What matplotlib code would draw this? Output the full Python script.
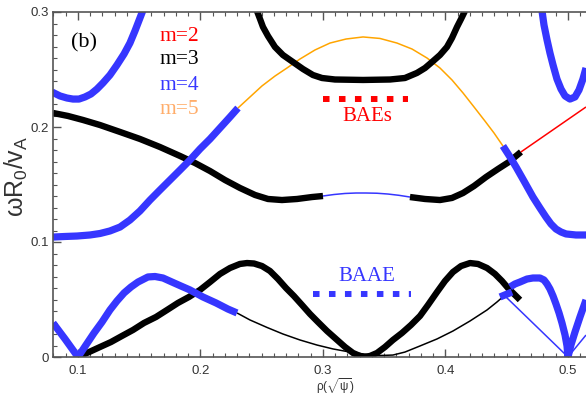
import matplotlib
matplotlib.use("Agg")
import matplotlib.pyplot as plt
from matplotlib.ticker import MultipleLocator

# ---------- Colours / widths ----------
RED = "#ff0000"
BLUE = "#3636ff"
ORANGE = "#ffa500"
ORANGE_TEXT = "#ffad6a"
GRAY = "#555555"
THICK_BLUE = 5.2
THICK_BLACK = 4.6
THIN = 1.1

plt.rcParams["lines.scale_dashes"] = False
plt.rcParams["mathtext.fontset"] = "custom"
plt.rcParams["mathtext.rm"] = "Liberation Sans"
plt.rcParams["mathtext.it"] = "Liberation Sans"

# ---------- Continuum branches: rho, omega*R0/vA ----------
# m=4, upper left U
m4_ul_x = [0.0788, 0.0853, 0.0910, 0.0959, 0.1008, 0.1057, 0.1106, 0.1155, 0.1204, 0.1261,
           0.1318, 0.1376, 0.1424, 0.1465, 0.1506, 0.1531]
m4_ul_y = [0.2304, 0.2270, 0.2252, 0.2243, 0.2243, 0.2261, 0.2287, 0.2330, 0.2383, 0.2452,
           0.2539, 0.2635, 0.2730, 0.2835, 0.2948, 0.3017]

# m=3, descending from upper left; thin m=4 piece in the gap; m=3 right part
m3_left_x = [0.0796, 0.0918, 0.1041, 0.1180, 0.1343, 0.1506, 0.1669, 0.1833, 0.1955, 0.2078,
             0.2200, 0.2322, 0.2445, 0.2551, 0.2665, 0.2788, 0.2910, 0.3000]
m3_left_y = [0.2122, 0.2096, 0.2061, 0.2017, 0.1957, 0.1896, 0.1826, 0.1748, 0.1687, 0.1617,
             0.1539, 0.1470, 0.1409, 0.1374, 0.1365, 0.1374, 0.1391, 0.1400]
m4_mid_x = [0.3000, 0.3090, 0.3180, 0.3270, 0.3351, 0.3441, 0.3531, 0.3620, 0.3710]
m4_mid_y = [0.1400, 0.1413, 0.1422, 0.1426, 0.1426, 0.1424, 0.1417, 0.1406, 0.1391]
m3_right_x = [0.3710, 0.3833, 0.3955, 0.4053, 0.4143, 0.4233, 0.4331, 0.4429, 0.4518, 0.4616]
m3_right_y = [0.1391, 0.1374, 0.1365, 0.1383, 0.1426, 0.1487, 0.1565, 0.1635, 0.1696, 0.1783]

# m=2, thin red continuation
m2_x = [0.4616, 0.5147]
m2_y = [0.1783, 0.2174]

# m=4 rising from 0.1 (thick), m=5 arc (thin), m=4 falling (thick)
m4_rise_x = [0.0796, 0.0894, 0.0992, 0.1098, 0.1180, 0.1261, 0.1343, 0.1424, 0.1506, 0.1588,
             0.1669, 0.1751, 0.1833, 0.1914, 0.1996, 0.2078, 0.2159, 0.2241, 0.2306]
m4_rise_y = [0.1043, 0.1048, 0.1052, 0.1061, 0.1074, 0.1096, 0.1130, 0.1191, 0.1270, 0.1365,
             0.1452, 0.1539, 0.1626, 0.1713, 0.1809, 0.1896, 0.1991, 0.2087, 0.2165]
m5_arc_x = [0.2306, 0.2404, 0.2502, 0.2608, 0.2706, 0.2812, 0.2935, 0.3057, 0.3188, 0.3327,
            0.3465, 0.3604, 0.3727, 0.3849, 0.3955, 0.4053, 0.4143, 0.4233, 0.4322, 0.4396, 0.4469]
m5_arc_y = [0.2165, 0.2261, 0.2357, 0.2443, 0.2513, 0.2591, 0.2670, 0.2730, 0.2765, 0.2783,
            0.2770, 0.2730, 0.2678, 0.2600, 0.2513, 0.2409, 0.2296, 0.2174, 0.2052, 0.1948, 0.1835]
m4_fall_x = [0.4469, 0.4527, 0.4576, 0.4641, 0.4714, 0.4771, 0.4820, 0.4861, 0.4902, 0.4943,
             0.4984, 0.5065, 0.5147]
m4_fall_y = [0.1835, 0.1739, 0.1652, 0.1530, 0.1391, 0.1296, 0.1217, 0.1157, 0.1113, 0.1087,
             0.1070, 0.1061, 0.1061]

# m=3 upper U (BAE gap)
m3_top_x = [0.2461, 0.2486, 0.2510, 0.2551, 0.2608, 0.2673, 0.2755, 0.2837, 0.2918, 0.2992,
            0.3098, 0.3327, 0.3547, 0.3669, 0.3767, 0.3833, 0.3890, 0.3955, 0.4012, 0.4053,
            0.4094, 0.4127, 0.4159]
m3_top_y = [0.3009, 0.2939, 0.2870, 0.2791, 0.2696, 0.2626, 0.2565, 0.2504, 0.2452, 0.2426,
            0.2413, 0.2409, 0.2413, 0.2426, 0.2470, 0.2513, 0.2565, 0.2626, 0.2696, 0.2774,
            0.2870, 0.2939, 0.3009]

# m=4 upper right U
m4_ur_x = [0.4788, 0.4804, 0.4829, 0.4853, 0.4878, 0.4910, 0.4943, 0.4976, 0.5016, 0.5057,
           0.5090, 0.5122, 0.5147]
m4_ur_y = [0.3009, 0.2887, 0.2757, 0.2643, 0.2539, 0.2417, 0.2330, 0.2270, 0.2243, 0.2261,
           0.2322, 0.2417, 0.2513]

# low-frequency (BAAE) branches
m4_low_x = [0.0796, 0.0894, 0.1000, 0.1065, 0.1131, 0.1196, 0.1261, 0.1318, 0.1376, 0.1433,
            0.1490, 0.1571, 0.1629, 0.1694, 0.1767, 0.1841, 0.1914, 0.2020, 0.2127, 0.2224, 0.2298]
m4_low_y = [0.0296, 0.0157, 0.0000, 0.0104, 0.0209, 0.0304, 0.0409, 0.0487, 0.0557, 0.0609,
            0.0652, 0.0696, 0.0700, 0.0687, 0.0652, 0.0617, 0.0583, 0.0522, 0.0470, 0.0417, 0.0383]
thin_low_x = [0.2298, 0.2404, 0.2543, 0.2673, 0.2812, 0.2951, 0.3082, 0.3220, 0.3359, 0.3465,
              0.3571, 0.3669, 0.3792, 0.3931, 0.4061, 0.4200, 0.4339, 0.4420, 0.4486]
thin_low_y = [0.0383, 0.0322, 0.0257, 0.0200, 0.0148, 0.0104, 0.0070, 0.0043, 0.0022, 0.0013,
              0.0017, 0.0043, 0.0096, 0.0157, 0.0226, 0.0313, 0.0409, 0.0478, 0.0539]
m3_low_x = [0.1000, 0.1090, 0.1180, 0.1269, 0.1359, 0.1449, 0.1539, 0.1637, 0.1727, 0.1816,
            0.1906, 0.1996, 0.2078, 0.2159, 0.2241, 0.2322, 0.2380, 0.2437, 0.2502, 0.2567,
            0.2633, 0.2698, 0.2763, 0.2829, 0.2894, 0.2959, 0.3033, 0.3106, 0.3180, 0.3245,
            0.3302, 0.3335, 0.3384, 0.3441, 0.3506, 0.3571, 0.3645, 0.3718, 0.3792, 0.3857,
            0.3931, 0.3996, 0.4061, 0.4127, 0.4200, 0.4265, 0.4339, 0.4404, 0.4461, 0.4510,
            0.4559, 0.4608]
m3_low_y = [0.0000, 0.0043, 0.0087, 0.0130, 0.0183, 0.0235, 0.0296, 0.0348, 0.0409, 0.0470,
            0.0522, 0.0583, 0.0652, 0.0722, 0.0774, 0.0809, 0.0817, 0.0813, 0.0791, 0.0748,
            0.0678, 0.0600, 0.0530, 0.0452, 0.0374, 0.0304, 0.0226, 0.0157, 0.0087, 0.0035,
            0.0009, 0.0000, 0.0009, 0.0035, 0.0087, 0.0148, 0.0209, 0.0278, 0.0357, 0.0452,
            0.0565, 0.0661, 0.0739, 0.0791, 0.0817, 0.0809, 0.0774, 0.0722, 0.0661, 0.0600,
            0.0548, 0.0496]
m4_lr_x = [0.4527, 0.4567, 0.4608, 0.4665, 0.4714, 0.4771, 0.4804, 0.4829, 0.4853, 0.4878,
           0.4902, 0.4927, 0.4951, 0.4976, 0.4992, 0.5000, 0.5024, 0.5057, 0.5098, 0.5147]
m4_lr_y = [0.0609, 0.0635, 0.0652, 0.0678, 0.0687, 0.0687, 0.0670, 0.0635, 0.0591, 0.0530,
           0.0461, 0.0383, 0.0296, 0.0191, 0.0096, 0.0000, 0.0104, 0.0217, 0.0348, 0.0496]
m4_blob_x = [0.4445, 0.4543]
m4_blob_y = [0.0522, 0.0565]
m4_thin_lr_x = [0.4486, 0.5000, 0.5147]
m4_thin_lr_y = [0.0530, 0.0000, 0.0191]

# gap markers
bae_x = [0.3000, 0.3694]
bae_y = [0.2243, 0.2243]
baae_x = [0.2922, 0.3722]
baae_y = [0.0548, 0.0548]

legend_labels = ["m=2", "m=3", "m=4", "m=5"]
legend_colors = [RED, "black", BLUE, ORANGE_TEXT]
legend_y = [0.2791, 0.2583, 0.2365, 0.2148]

x_ticks = [0.1, 0.2, 0.3, 0.4, 0.5]
y_ticks = [0.0, 0.1, 0.2, 0.3]
y_tick_labels = ["0", "0.1", "0.2", "0.3"]

segments = [
    (m4_ul_x, m4_ul_y, BLUE, THICK_BLUE),
    (m3_left_x, m3_left_y, "black", THICK_BLACK),
    (m4_mid_x, m4_mid_y, BLUE, THIN),
    (m3_right_x, m3_right_y, "black", THICK_BLACK),
    (m2_x, m2_y, RED, THIN),
    (m4_rise_x, m4_rise_y, BLUE, THICK_BLUE),
    (m5_arc_x, m5_arc_y, ORANGE, THIN),
    (m4_fall_x, m4_fall_y, BLUE, THICK_BLUE),
    (m3_top_x, m3_top_y, "black", THICK_BLACK),
    (m4_ur_x, m4_ur_y, BLUE, THICK_BLUE),
    (thin_low_x, thin_low_y, "black", THIN),
    (m4_thin_lr_x, m4_thin_lr_y, BLUE, THIN),
    (m3_low_x, m3_low_y, "black", THICK_BLACK),
    (m4_low_x, m4_low_y, BLUE, THICK_BLUE),
    (m4_lr_x, m4_lr_y, BLUE, THICK_BLUE),
    (m4_blob_x, m4_blob_y, BLUE, THICK_BLUE),
]

fig = plt.figure(figsize=(5.86, 3.97), dpi=100)
ax = fig.add_axes([53 / 586, 40 / 397, 533 / 586, 345 / 397])

for xs, ys, color, lw in segments:
    ax.plot(xs, ys, color=color, lw=lw, solid_capstyle="butt", solid_joinstyle="round")

ax.plot(bae_x, bae_y, color=RED, lw=4.3, ls=(0, (4.7, 6.8)))
ax.plot(baae_x, baae_y, color=BLUE, lw=4.3, ls=(0, (4.7, 6.8)))

serif = "Liberation Serif"
ax.text(0.3363, 0.2087, "BAEs", color=RED, fontsize=15, family=serif, ha="center", va="center")
ax.text(0.3355, 0.0696, "BAAE", color=BLUE, fontsize=15, family=serif, ha="center", va="center")
ax.text(0.1049, 0.2730, "(b)", color="black", fontsize=16, family=serif, ha="center", va="center")
for label, color, yy in zip(legend_labels, legend_colors, legend_y):
    ax.text(0.1669, yy, label, color=color, fontsize=15.5, family=serif, ha="left", va="center")

ax.set_xlim(0.0796, 0.5147)
ax.set_ylim(0, 0.3)

ax.set_xticks(x_ticks)
ax.set_yticks(y_ticks)
ax.set_yticklabels(y_tick_labels)
ax.xaxis.set_minor_locator(MultipleLocator(0.01))
ax.yaxis.set_minor_locator(MultipleLocator(0.01))
ax.tick_params(which="both", direction="in", top=True, right=False, color=GRAY,
               labelcolor="#333333", labelsize=9.5, labelfontfamily="Liberation Sans")
ax.tick_params(which="major", length=6, width=1)
ax.tick_params(which="minor", length=3, width=0.8)
ax.tick_params(axis="x", pad=6)
ax.tick_params(axis="y", pad=3)

for side in ("left", "bottom", "top"):
    ax.spines[side].set_color(GRAY)
    ax.spines[side].set_linewidth(1.2)
ax.spines["right"].set_visible(False)

ax.set_xlabel(r"$\rho(\sqrt{\psi})$", fontsize=8.5, color="#333333")
ax.xaxis.set_label_coords(0.53, -0.055)
ax.set_ylabel(r"$\omega R_0/v_A$", fontsize=18, color="#333333")
ax.yaxis.set_label_coords(-0.043, 0.522)

fig.savefig("out.png", dpi=100)
